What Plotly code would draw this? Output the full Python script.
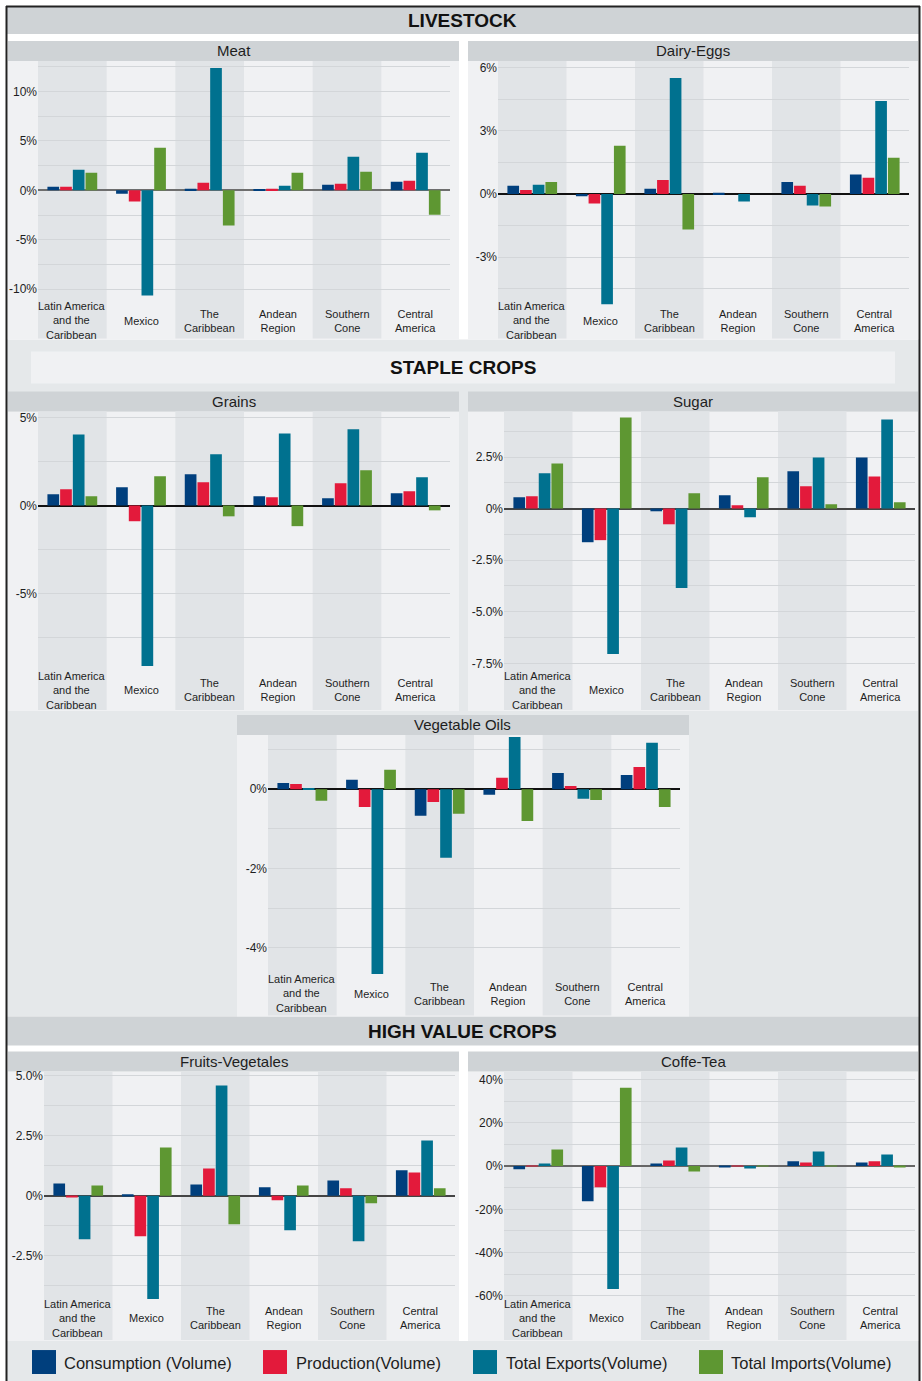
import plotly.graph_objects as go

W, H = 922, 1381

# ---------------- data ----------------
regions = ["Latin America and the Caribbean", "Mexico", "The Caribbean",
           "Andean Region", "Southern Cone", "Central America"]
region_labels = ["Latin America<br>and the<br>Caribbean", "Mexico", "The<br>Caribbean",
                 "Andean<br>Region", "Southern<br>Cone", "Central<br>America"]
series_names = ["Consumption (Volume)", "Production(Volume)",
                "Total Exports(Volume)", "Total Imports(Volume)"]
series_colors = ["#003f7d", "#e31a3b", "#00718f", "#5e9732"]

# values in %
meat_consumption = [0.37, -0.34, 0.17, 0.07, 0.57, 0.88]
meat_production = [0.37, -1.14, 0.77, 0.17, 0.67, 0.98]
meat_exports = [2.09, -10.64, 12.39, 0.47, 3.40, 3.80]
meat_imports = [1.78, 4.31, -3.57, 1.78, 1.89, -2.46]

dairy_consumption = [0.39, -0.11, 0.24, 0.06, 0.57, 0.92]
dairy_production = [0.19, -0.46, 0.66, 0.00, 0.39, 0.77]
dairy_exports = [0.44, -5.24, 5.51, -0.36, -0.55, 4.42]
dairy_imports = [0.57, 2.29, -1.69, 0.00, -0.60, 1.72]

grains_consumption = [0.64, 1.04, 1.78, 0.53, 0.42, 0.70]
grains_production = [0.93, -0.89, 1.33, 0.47, 1.27, 0.81]
grains_exports = [4.05, -9.13, 2.92, 4.11, 4.34, 1.61]
grains_imports = [0.53, 1.67, -0.61, -1.17, 2.01, -0.27]

sugar_consumption = [0.55, -1.63, -0.13, 0.65, 1.81, 2.48]
sugar_production = [0.60, -1.53, -0.76, 0.16, 1.08, 1.56]
sugar_exports = [1.71, -7.05, -3.85, -0.42, 2.48, 4.32]
sugar_imports = [2.19, 4.42, 0.74, 1.52, 0.21, 0.31]

vegoil_consumption = [0.16, 0.24, -0.67, -0.14, 0.41, 0.36]
vegoil_production = [0.13, -0.45, -0.32, 0.29, 0.08, 0.56]
vegoil_exports = [0.03, -4.66, -1.73, 1.32, -0.24, 1.17]
vegoil_imports = [-0.29, 0.49, -0.62, -0.80, -0.27, -0.45]

fruit_consumption = [0.51, 0.06, 0.47, 0.35, 0.64, 1.06]
fruit_production = [-0.06, -1.69, 1.14, -0.19, 0.31, 0.97]
fruit_exports = [-1.82, -4.32, 4.60, -1.44, -1.90, 2.31]
fruit_imports = [0.43, 2.01, -1.19, 0.43, -0.32, 0.31]

coffee_consumption = [-1.5, -16.3, 1.2, -0.6, 2.2, 1.7]
coffee_production = [0.3, -9.8, 2.6, 0.3, 1.7, 2.2]
coffee_exports = [1.2, -56.9, 8.6, -1.1, 6.8, 5.4]
coffee_imports = [7.7, 36.3, -2.5, 0.3, 0.3, -0.6]

# tick values / labels
meat_tick_values = [-10, -7.5, -5, -2.5, 0, 2.5, 5, 7.5, 10, 12.5]
meat_tick_labels = ["-10%", "", "-5%", "", "0%", "", "5%", "", "10%", ""]
dairy_tick_values = [-4.5, -3, -1.5, 0, 1.5, 3, 4.5, 6]
dairy_tick_labels = ["", "-3%", "", "0%", "", "3%", "", "6%"]
grains_tick_values = [-7.5, -5, -2.5, 0, 2.5, 5]
grains_tick_labels = ["", "-5%", "", "0%", "", "5%"]
sugar_tick_values = [-7.5, -6.25, -5, -3.75, -2.5, -1.25, 0, 1.25, 2.5, 3.75]
sugar_tick_labels = ["-7.5%", "", "-5.0%", "", "-2.5%", "", "0%", "", "2.5%", ""]
vegoil_tick_values = [-4, -3, -2, -1, 0, 1]
vegoil_tick_labels = ["-4%", "", "-2%", "", "0%", ""]
fruit_tick_values = [-3.75, -2.5, -1.25, 0, 1.25, 2.5, 3.75, 5]
fruit_tick_labels = ["", "-2.5%", "", "0%", "", "2.5%", "", "5.0%"]
coffee_tick_values = [-60, -50, -40, -30, -20, -10, 0, 10, 20, 30, 40]
coffee_tick_labels = ["-60%", "", "-40%", "", "-20%", "", "0%", "", "20%", "", "40%"]

# ---------------- style / layout ----------------
NARROW = "Liberation Sans, Arial, Helvetica, sans-serif"
REGULAR = "Liberation Sans, Arial, Helvetica, sans-serif"
TEXT = "#1e1e1e"
BAR_DARK = "#cfd3d6"
PANEL_BG = "#f0f1f3"
BAND_BG = "#e1e4e7"
SECTION_GRAY = "#e5e8ea"
GRID = "#d3d6d9"


def px(x):
    return x / W


def py(y):
    return 1 - y / H


panels = [
    dict(title="Meat",
         values=[meat_consumption, meat_production, meat_exports, meat_imports],
         ticks=(meat_tick_values, meat_tick_labels), yrange=[-15.0, 13.1],
         plot=(38, 450, 59, 337), box=(8, 459, 39, 59), label_y=319, zero="#6e6e6e"),
    dict(title="Dairy-Eggs",
         values=[dairy_consumption, dairy_production, dairy_exports, dairy_imports],
         ticks=(dairy_tick_values, dairy_tick_labels), yrange=[-6.87, 6.32],
         plot=(498, 909, 59, 337), box=(468, 918, 39, 59), label_y=319, zero="#111111"),
    dict(title="Grains",
         values=[grains_consumption, grains_production, grains_exports, grains_imports],
         ticks=(grains_tick_values, grains_tick_labels), yrange=[-11.63, 5.36],
         plot=(38, 450, 410, 709), box=(8, 459, 390, 410), label_y=689, zero="#111111"),
    dict(title="Sugar",
         values=[sugar_consumption, sugar_production, sugar_exports, sugar_imports],
         ticks=(sugar_tick_values, sugar_tick_labels), yrange=[-9.76, 4.71],
         plot=(504, 915, 410, 709), box=(468, 918, 390, 410), label_y=689, zero="#444444"),
    dict(title="Vegetable Oils",
         values=[vegoil_consumption, vegoil_production, vegoil_exports, vegoil_imports],
         ticks=(vegoil_tick_values, vegoil_tick_labels), yrange=[-5.71, 1.37],
         plot=(268, 680, 734, 1015), box=(237, 689, 714, 734), label_y=993, zero="#111111"),
    dict(title="Fruits-Vegetales",
         values=[fruit_consumption, fruit_production, fruit_exports, fruit_imports],
         ticks=(fruit_tick_values, fruit_tick_labels), yrange=[-6.03, 5.19],
         plot=(44, 455, 1071, 1340), box=(8, 459, 1051, 1071), label_y=1318, zero="#444444"),
    dict(title="Coffe-Tea",
         values=[coffee_consumption, coffee_production, coffee_exports, coffee_imports],
         ticks=(coffee_tick_values, coffee_tick_labels), yrange=[-80.5, 43.8],
         plot=(504, 915, 1071, 1340), box=(468, 918, 1051, 1071), label_y=1318, zero="#666666"),
]

fig = go.Figure()
shapes = []
annotations = []
layout_axes = {}


def rect(x0, x1, y0, y1, color, layer="below"):
    shapes.append(dict(type="rect", xref="paper", yref="paper",
                       x0=px(x0), x1=px(x1), y0=py(y1), y1=py(y0),
                       fillcolor=color, line=dict(width=0), layer=layer))


# section backgrounds
rect(7, 919, 5, 32, BAR_DARK)            # LIVESTOCK banner
rect(7, 919, 338, 1016, SECTION_GRAY)    # staple crops section
rect(31, 895, 350, 382, PANEL_BG)        # STAPLE CROPS banner
rect(7, 919, 1016, 1045, BAR_DARK)       # HIGH VALUE banner
rect(7, 919, 1341, 1381, SECTION_GRAY)   # legend area

for text, ycen in [("LIVESTOCK", 18.5), ("STAPLE CROPS", 366.5), ("HIGH VALUE CROPS", 1031)]:
    annotations.append(dict(text=text, xref="paper", yref="paper", x=px(463), y=py(ycen),
                            xanchor="center", yanchor="middle", showarrow=False,
                            font=dict(family=NARROW, size=19, color="#111111", weight="bold")))

for i, p in enumerate(panels, start=1):
    xa = "x" if i == 1 else f"x{i}"
    ya = "y" if i == 1 else f"y{i}"
    bx0, bx1, by0, by1 = p["box"]
    x0, x1, y0, y1 = p["plot"]
    rect(bx0, bx1, by1, y1 + 1, PANEL_BG)
    rect(bx0, bx1, by0, by1, BAR_DARK)
    annotations.append(dict(text=p["title"], xref="paper", yref="paper",
                            x=px((bx0 + bx1) / 2), y=py((by0 + by1) / 2),
                            xanchor="center", yanchor="middle", showarrow=False,
                            font=dict(family=REGULAR, size=15, color=TEXT)))
    for s in range(4):
        fig.add_trace(go.Bar(x=regions, y=p["values"][s], name=series_names[s],
                             marker=dict(color=series_colors[s], line=dict(width=0)),
                             xaxis=xa, yaxis=ya, showlegend=False))
    layout_axes["xaxis" if i == 1 else f"xaxis{i}"] = dict(
        domain=[px(x0), px(x1)], range=[-0.5, 5.5], anchor=ya,
        showticklabels=False, showgrid=False, zeroline=False, showline=False,
        ticks="", fixedrange=True)
    tv, tt = p["ticks"]
    layout_axes["yaxis" if i == 1 else f"yaxis{i}"] = dict(
        domain=[py(y1), py(y0)], range=p["yrange"], anchor=xa,
        tickmode="array", tickvals=tv, ticktext=tt, ticks="",
        showgrid=True, gridcolor=GRID, gridwidth=1,
        zeroline=True, zerolinecolor=p["zero"], zerolinewidth=2,
        showline=False, fixedrange=True,
        tickfont=dict(family=NARROW, size=12, color=TEXT))
    for j in (0, 2, 4):
        shapes.append(dict(type="rect", xref=xa, yref=f"{ya} domain",
                           x0=j - 0.5, x1=j + 0.5, y0=0, y1=1,
                           fillcolor=BAND_BG, line=dict(width=0), layer="below"))
    for j, label in enumerate(region_labels):
        annotations.append(dict(text=label, xref=xa, yref="paper", x=regions[j],
                                y=py(p["label_y"]), xanchor="center", yanchor="middle",
                                showarrow=False, align="center", borderpad=0,
                                font=dict(family=NARROW, size=11, color=TEXT)))

# custom legend
legend_pos = [(32, 62), (263, 294), (473, 504), (699, 729)]
for (sq, tx), name, color in zip(legend_pos, series_names, series_colors):
    rect(sq, sq + 24, 1350, 1374, color, layer="above")
    annotations.append(dict(text=name, xref="paper", yref="paper", x=px(tx), y=py(1362.5),
                            xanchor="left", yanchor="middle", showarrow=False,
                            font=dict(family=NARROW, size=16.5, color=TEXT)))

# outer frame
for (xa0, ya0, xa1, ya1) in [(6, 4.5, 920, 4.5), (6.5, 4, 6.5, 1381), (919.5, 4, 919.5, 1381)]:
    shapes.append(dict(type="line", xref="paper", yref="paper",
                       x0=px(xa0), y0=py(ya0), x1=px(xa1), y1=py(ya1),
                       line=dict(color="#222222", width=2), layer="above"))

fig.update_layout(
    width=W, height=H, margin=dict(l=0, r=0, t=0, b=0),
    paper_bgcolor="#ffffff", plot_bgcolor="rgba(0,0,0,0)",
    barmode="group", bargap=0.26, bargroupgap=0.08,
    showlegend=False, shapes=shapes, annotations=annotations,
    **layout_axes,
)

fig.write_html("out.html", config={"displayModeBar": False},
               post_script="document.body.style.margin='0';document.body.style.overflow='hidden';")
